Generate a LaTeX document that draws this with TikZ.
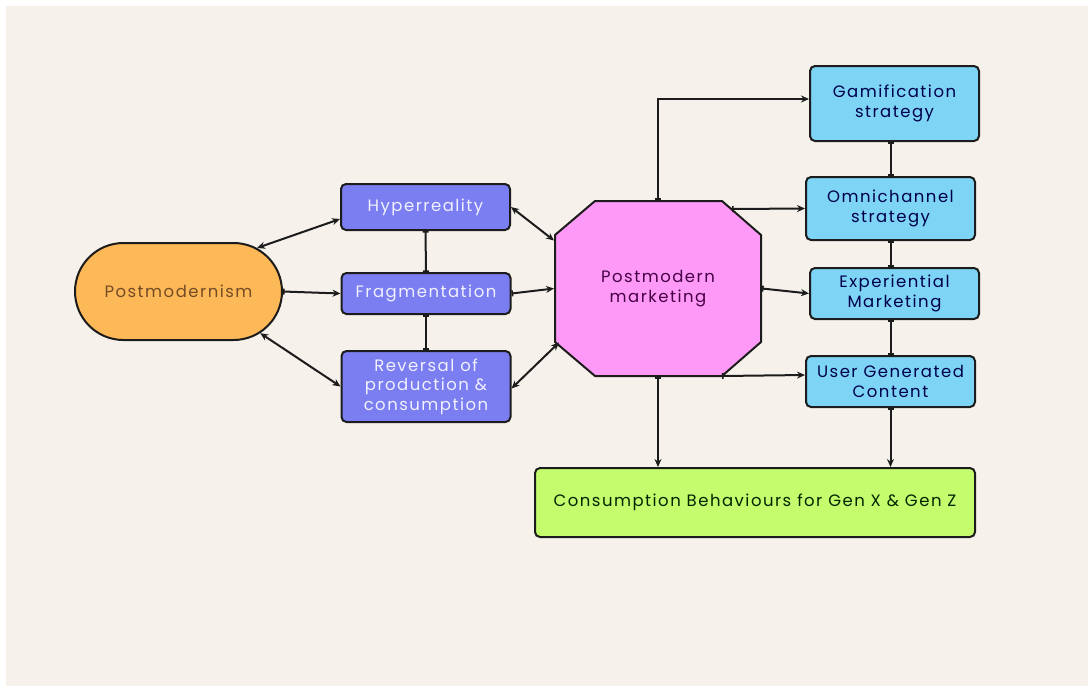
\documentclass[tikz,border=0pt]{standalone}
\usepackage{fontspec}
\setmainfont{Poppins}[LetterSpace=9]
\usetikzlibrary{shapes.misc,arrows.meta,calc}

\definecolor{paper}{HTML}{F6F1EA}
\definecolor{orangefill}{HTML}{FDB857}
\definecolor{violetfill}{HTML}{7B7EF0}
\definecolor{pinkfill}{HTML}{FF99F7}
\definecolor{skyfill}{HTML}{7DD4F4}
\definecolor{limefill}{HTML}{C5FC6E}
\definecolor{ink}{HTML}{1C1C1C}

\tikzset{
  base/.style={draw=ink, line width=2pt, align=center, font=\fontsize{16.5}{19.5}\selectfont, inner sep=0pt},
  stadium/.style={base, rounded rectangle, fill=orangefill, text=brown!60!black,
    minimum width=207pt, minimum height=97pt},
  concept/.style={base, rectangle, rounded corners=5pt, fill=violetfill, text=white!94!blue,
    minimum width=169pt},
  hub/.style={base, draw=none, rectangle, text=violet!55!black,
    minimum width=206pt, minimum height=175pt},
  hubshape/.style={draw=ink, line width=2pt, fill=pinkfill, line join=miter},
  strategy/.style={base, rectangle, rounded corners=5pt, fill=skyfill, text=blue!30!black,
    minimum width=169pt},
  outcome/.style={base, rectangle, rounded corners=5pt, fill=limefill, text=black!85!green,
    minimum width=440pt, minimum height=69pt},
  link/.style={line width=2pt, draw=ink},
  both/.style={link, {Stealth[length=8pt,width=7pt]}-{Stealth[length=8pt,width=7pt]}},
  fwd/.style={link, {Bar[width=6pt,line width=1.6pt]}-{Stealth[length=8pt,width=7pt]}},
  tie/.style={link, {Bar[width=6pt,line width=1.6pt]}-{Bar[width=6pt,line width=1.6pt]}}
}

\begin{document}
\begin{tikzpicture}[x=1pt,y=-1pt]
  % page
  \fill[white] (0,0) rectangle (1088,689);
  \fill[paper] (6,6) rectangle (1088,686);
  \useasboundingbox (0,0) rectangle (1088,689);

  % octagonal hub outline, placed around its centre
  \coordinate (hubc) at (658,288.5);
  \filldraw[hubshape] ($(hubc)+(-63,-87.5)$) -- ($(hubc)+(64,-87.5)$)
    -- ($(hubc)+(103,-53.5)$) -- ($(hubc)+(103,53.5)$)
    -- ($(hubc)+(64,87.5)$) -- ($(hubc)+(-63,87.5)$)
    -- ($(hubc)+(-103,53.5)$) -- ($(hubc)+(-103,-53.5)$) -- cycle;

  % nodes
  \node[stadium] (pm) at (178.5,291.5) {Postmodernism};

  \node[concept, minimum height=46pt] (hyp) at (425.5,207) {Hyperreality};
  \node[concept, minimum height=41pt] (frag) at (426,293.5) {Fragmentation};
  \node[concept, minimum height=71pt] (rev) at (426,386.5) {Reversal of\\production \&\\consumption};

  \node[hub] (pmk) at (hubc) {Postmodern\\marketing};

  \node[strategy, minimum height=75pt] (gam) at (894.5,103.5) {Gamification\\strategy};
  \node[strategy, minimum height=63pt] (omni) at (890.5,208.5) {Omnichannel\\strategy};
  \node[strategy, minimum height=51pt] (exp) at (894.5,293.5) {Experiential\\Marketing};
  \node[strategy, minimum height=51pt] (ugc) at (890.5,381.5) {User Generated\\Content};

  \node[outcome] (cons) at (755,502.5) {Consumption Behaviours for Gen X \& Gen Z};

  % left cluster
  \draw[both] (pm.29) -- ([yshift=-12pt]hyp.west);
  \draw[fwd] (pm.east) -- (frag.west);
  \draw[both] (pm.-27) -- (rev.west);
  \draw[tie] (hyp.south) -- (frag.north);
  \draw[tie] (frag.south) -- (rev.north);

  % into the hub
  \draw[both] (hyp.east) -- ($(pmk.west)+(0,-48)$);
  \draw[fwd] (frag.east) -- (pmk.west);
  \draw[both] ([yshift=-2pt]rev.east) -- ($(pmk.west)+(5,54)$);

  % out of the hub
  \draw[fwd] (pmk.north) |- ($(gam.west)+(0,-4.5)$);
  \draw[fwd] ($(pmk.north)+(74,9)$) -- (omni.west);
  \draw[fwd] (pmk.east) -- (exp.west);
  \draw[fwd] ($(pmk.south)+(64,-1)$) -- ($(ugc.west)+(0,-6.5)$);
  \draw[fwd] (pmk.south) -- (pmk.south |- cons.north);

  % strategy chain
  \draw[tie] (gam.south -| omni.north) -- (omni.north);
  \draw[tie] (omni.south) -- (omni.south |- exp.north);
  \draw[tie] (exp.south -| ugc.north) -- (ugc.north);
  \draw[fwd] (ugc.south) -- (ugc.south |- cons.north);
\end{tikzpicture}
\end{document}
